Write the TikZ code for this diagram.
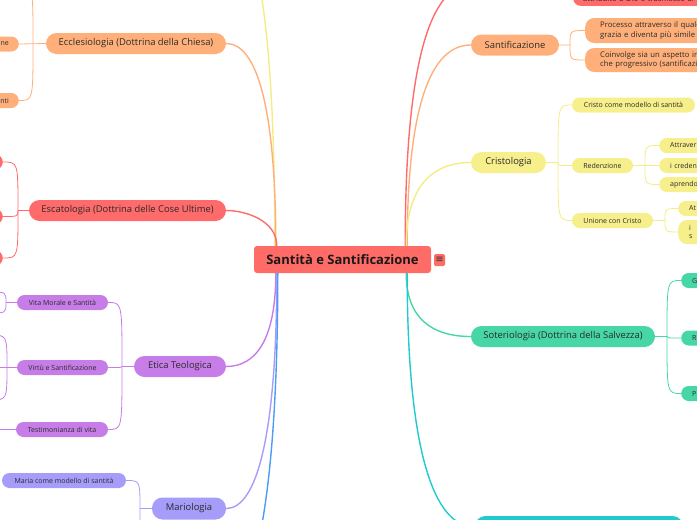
\documentclass[tikz,border=0pt]{standalone}
\usepackage{fontspec}
\setmainfont{Open Sans}
\newfontfamily\dejavu{DejaVu Sans}
\usetikzlibrary{backgrounds}
\definecolor{cCen}{HTML}{FF6B66}
\definecolor{cRed}{HTML}{FF6B6B}
\definecolor{cPeach}{HTML}{FFB07A}
\definecolor{cYel}{HTML}{F6EF8C}
\definecolor{cYelL}{HTML}{F4EC86}
\definecolor{cPur}{HTML}{C77DE8}
\definecolor{cLav}{HTML}{A69CF9}
\definecolor{cGrn}{HTML}{47D6A5}
\definecolor{cCyan}{HTML}{1FCAD0}
\definecolor{cBlue}{HTML}{4A9CF5}
\definecolor{txt}{HTML}{2B2B2B}
\tikzset{
 central/.style={fill=cCen, rounded corners=3pt, minimum width=177pt, minimum height=27pt, inner sep=0pt, font=\fontsize{13}{15}\selectfont\bfseries, text=black!90},
 iconbox/.style={fill=cCen, rounded corners=1.5pt, minimum width=11pt, minimum height=12pt, inner sep=0pt, font=\dejavu\fontsize{10}{10}\selectfont, text=black!80},
 mainbr/.style={rounded corners=10.5pt, minimum height=21pt, inner sep=0pt, font=\fontsize{9.4}{11}\selectfont, text=txt},
 leaf/.style={rounded corners=7.5pt, minimum height=15pt, inner sep=0pt, font=\fontsize{7}{8.5}\selectfont, text=txt},
 leafR/.style={leaf, anchor=west, align=left, inner xsep=11pt, inner ysep=0pt, text width=110pt},
 leafL/.style={leaf, anchor=east, align=right, inner xsep=10pt, inner ysep=0pt, text width=60pt},
 twoline/.style={rounded corners=9pt, minimum height=25pt, inner xsep=15pt, font=\fontsize{7.7}{9.5}\selectfont, text width=150pt},
 br/.style={line width=1.4pt},
 sub/.style={line width=0.8pt},
}
\begin{document}
\begin{tikzpicture}[x=1pt,y=1pt]
\useasboundingbox (0,0) rectangle (697,-520);
\clip (0,0) rectangle (697,-520);

% central
\node[central] (C) at (342.5,-259.5) {Santità e Santificazione};
\node[iconbox] (I) at (439.5,-260) {≡};

% left main branches
\node[mainbr, fill=cPeach, minimum width=180pt] (Ecc) at (136,-43.5) {Ecclesiologia (Dottrina della Chiesa)};
\node[mainbr, fill=cRed, minimum width=197pt] (Esc) at (127.5,-210.5) {Escatologia (Dottrina delle Cose Ultime)};
\node[mainbr, fill=cPur, minimum width=92pt] (Eti) at (180,-366.5) {Etica Teologica};
\node[mainbr, fill=cLav, minimum width=74pt, minimum height=22pt] (Mar) at (189,-508.5) {Mariologia};

% right main branches
\node[mainbr, fill=cPeach, minimum width=88pt] (San) at (515,-45) {Santificazione};
\node[mainbr, fill=cYel, minimum width=75pt] (Cri) at (508.5,-162.5) {Cristologia};
\node[mainbr, fill=cGrn, minimum width=184pt] (Sot) at (563,-336.5) {Soteriologia (Dottrina della Salvezza)};
\node[mainbr, fill=cCyan, minimum width=208pt, minimum height=22pt] (Cy) at (579,-527) {};

% top red leaf
\node[leafR, fill=cRed, anchor=south west, inner xsep=10pt, inner ysep=2.5pt, font=\fontsize{7.7}{9.5}\selectfont, text width=150pt] (R1) at (573,-6) {attribuito a Dio e trasmesso ai cre};

% Santificazione leaves
\node[leafR, twoline, fill=cPeach] (S1) at (585,-30.5) {Processo attraverso il quale i\\grazia e diventa più simile a};
\node[leafR, twoline, fill=cPeach, minimum height=24pt] (S2) at (585,-60) {Coinvolge sia un aspetto iniz\\che progressivo (santificazion};

% Cristologia leaves
\node[leaf, fill=cYel, minimum width=123pt] (K1) at (633.5,-105) {Cristo come modello di santità};
\node[leaf, fill=cYel, minimum width=61pt] (K2) at (602.5,-165.5) {Redenzione};
\node[leaf, fill=cYel, minimum width=81pt] (K3) at (612.5,-220.5) {Unione con Cristo};
\node[leafR, fill=cYel] (K21) at (659,-145.5) {Attraver};
\node[leafR, fill=cYel] (K22) at (659,-165.5) {i creden};
\node[leafR, fill=cYel] (K23) at (659,-184.5) {aprendo};
\node[leafR, fill=cYel] (K31) at (678,-208.5) {At};
\node[leafR, fill=cYel, minimum height=24pt, rounded corners=9pt] (K32) at (678,-232) {i\\s};

% Soteriologia leaves
\node[leafR, fill=cGrn] (G1) at (681,-280.5) {G};
\node[leafR, fill=cGrn] (G2) at (681,-338) {R};
\node[leafR, fill=cGrn] (G3) at (681,-393.5) {P};

% Ecclesiologia leaves
\node[leafL, fill=cPeach] (E1) at (19,-44) {one};
\node[leafL, fill=cPeach] (E2) at (19,-100.5) {nti};

% Escatologia leaves
\node[leafL, fill=cRed] (X1) at (3,-162) {};
\node[leafL, fill=cRed] (X2) at (3,-216.5) {};
\node[leafL, fill=cRed] (X3) at (3,-258) {};

% Etica leaves
\node[leaf, fill=cPur, minimum width=91pt] (T1) at (62.5,-302.5) {Vita Morale e Santità};
\node[leaf, fill=cPur, minimum width=91pt] (T2) at (62.5,-367.5) {Virtù e Santificazione};
\node[leaf, fill=cPur, minimum width=92pt] (T3) at (62,-429.5) {Testimonianza di vita};

% Mariologia leaf
\node[leaf, fill=cLav, minimum width=124pt] (M1) at (64,-480.5) {Maria come modello di santità};

% junctions and free ends
\coordinate (redBr) at (471,15);
\coordinate (yelBr) at (226,80);
\coordinate (blueBr) at (226,-600);
\coordinate (jS) at (570,-45);
\coordinate (jK) at (558,-162.5);
\coordinate (jK2) at (645,-165.5);
\coordinate (jK3) at (665,-220.5);
\coordinate (jG) at (667,-336.5);
\coordinate (jE) at (33,-44);
\coordinate (E0) at (19,15);
\coordinate (jX) at (18,-210.5);
\coordinate (jT) at (122,-366.5);
\coordinate (jM) at (140,-508.5);
\coordinate (M0) at (126,-545);
\coordinate (jT1) at (6,-302.5);
\coordinate (jT2) at (7,-367.5);
\coordinate (T11) at (-10,-292);
\coordinate (T12) at (-10,-313);
\coordinate (T21) at (-10,-335);
\coordinate (T22) at (-10,-367.5);
\coordinate (T23) at (-10,-400);
\coordinate (T31) at (-10,-429.5);

\begin{scope}[on background layer]
% main connectors
\draw[br, cYelL] ([xshift=21pt]C.north west) .. controls +(0,228) and +(30,0) .. (yelBr);
\draw[br, cPeach] ([xshift=22pt]C.north west) .. controls +(0,141) and +(30,0) .. (Ecc.east);
\draw[br, cRed] ([xshift=23pt]C.north west) .. controls +(0,25) and +(20,0) .. (Esc.east);
\draw[br, cPur] ([xshift=22pt]C.south west) .. controls +(0,-66) and +(30,0) .. (Eti.east);
\draw[br, cLav] ([xshift=23pt]C.south west) .. controls +(0,-165) and +(30,0) .. (Mar.east);
\draw[br, cBlue] ([xshift=24pt]C.south west) .. controls +(0,-215) and +(30,0) .. (blueBr);
\draw[br, cRed] ([xshift=-26pt]C.north east) .. controls +(0,186) and +(-40,0) .. (redBr);
\draw[br, cPeach] ([xshift=-24pt]C.north east) .. controls +(0,140) and +(-40,0) .. (San.west);
\draw[br, cYelL] ([xshift=-25pt]C.north east) .. controls +(0,59) and +(-39,0) .. (Cri.west);
\draw[br, cGrn] ([xshift=-25pt]C.south east) .. controls +(0,-45) and +(-39,0) .. (Sot.west);
\draw[br, cCyan] ([xshift=-24pt]C.south east) .. controls +(0,-178) and +(-41,0) .. (Cy.west);

% right brackets
\draw[sub, cPeach] (San.east) -- (jS) .. controls (jS |- S1.west) .. (S1.west);
\draw[sub, cPeach] (jS) .. controls (jS |- S2.west) .. (S2.west);
\draw[sub, cYelL] (Cri.east) -- (jK) .. controls (jK |- K1.west) .. (K1.west);
\draw[sub, cYelL] (jK) .. controls (jK |- K2.west) .. (K2.west);
\draw[sub, cYelL] (jK) .. controls (jK |- K3.west) .. (K3.west);
\draw[sub, cYelL] (K2.east) -- (jK2) .. controls (jK2 |- K21.west) .. (K21.west);
\draw[sub, cYelL] (jK2) -- (K22.west);
\draw[sub, cYelL] (jK2) .. controls (jK2 |- K23.west) .. (K23.west);
\draw[sub, cYelL] (K3.east) -- (jK3) .. controls (jK3 |- K31.west) .. (K31.west);
\draw[sub, cYelL] (jK3) .. controls (jK3 |- K32.west) .. (K32.west);
\draw[sub, cGrn] (Sot.east) -- (jG) .. controls (jG |- G1.west) .. (G1.west);
\draw[sub, cGrn] (jG) .. controls (jG |- G2.west) .. (G2.west);
\draw[sub, cGrn] (jG) .. controls (jG |- G3.west) .. (G3.west);

% left brackets
\draw[sub, cPeach] (Ecc.west) -- (E1.east);
\draw[sub, cPeach] (jE) .. controls (jE |- E2.east) .. (E2.east);
\draw[sub, cPeach] (jE) .. controls (jE |- E0) .. (E0);
\draw[sub, cRed] (Esc.west) -- (jX) .. controls (jX |- X1.east) .. (X1.east);
\draw[sub, cRed] (jX) .. controls (jX |- X2.east) .. (X2.east);
\draw[sub, cRed] (jX) .. controls (jX |- X3.east) .. (X3.east);
\draw[sub, cPur] (Eti.west) -- (jT) .. controls (jT |- T1.east) .. (T1.east);
\draw[sub, cPur] (jT) .. controls (jT |- T2.east) .. (T2.east);
\draw[sub, cPur] (jT) .. controls (jT |- T3.east) .. (T3.east);
\draw[sub, cPur] (T1.west) -- (jT1) .. controls (jT1 |- T11) .. (T11);
\draw[sub, cPur] (jT1) .. controls (jT1 |- T12) .. (T12);
\draw[sub, cPur] (T2.west) -- (jT2) .. controls (jT2 |- T21) .. (T21);
\draw[sub, cPur] (jT2) -- (T22);
\draw[sub, cPur] (jT2) .. controls (jT2 |- T23) .. (T23);
\draw[sub, cPur] (T3.west) -- (T31);
\draw[sub, cLav] (Mar.west) -- (jM) .. controls (jM |- M1.east) .. (M1.east);
\draw[sub, cLav] (jM) .. controls (jM |- M0) .. (M0);
\end{scope}
\end{tikzpicture}
\end{document}
